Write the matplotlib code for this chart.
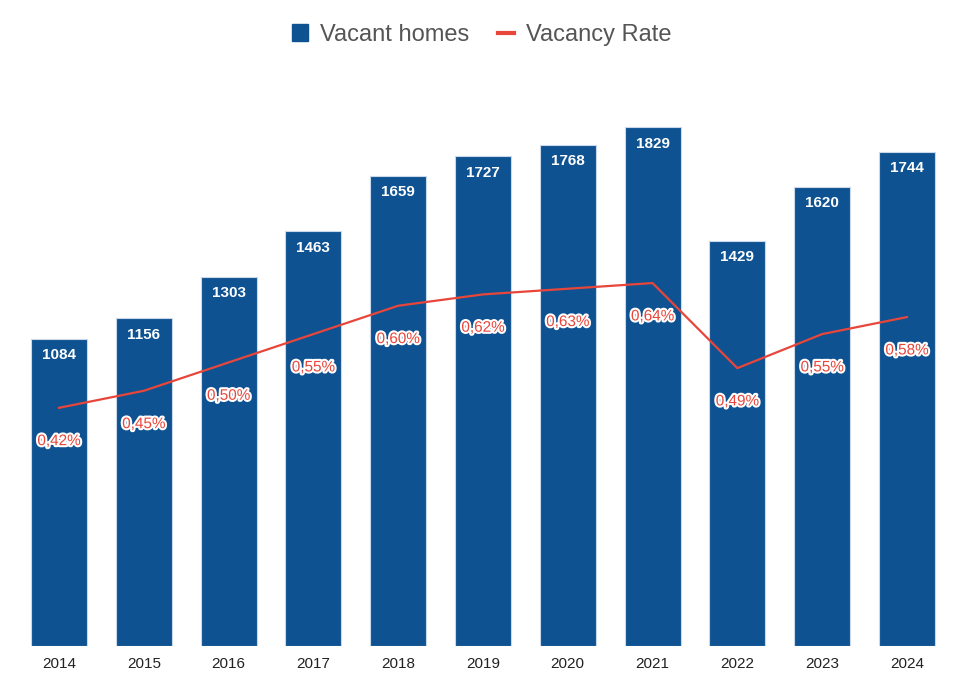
import matplotlib.pyplot as plt
import matplotlib.patheffects as pe
from matplotlib.lines import Line2D
from matplotlib.patches import Patch

plt.rcParams["font.family"] = ["Liberation Sans", "DejaVu Sans"]

years = ["2014", "2015", "2016", "2017", "2018", "2019", "2020", "2021", "2022", "2023", "2024"]
vacant_homes = [1084, 1156, 1303, 1463, 1659, 1727, 1768, 1829, 1429, 1620, 1744]
vacancy_rate = [0.42, 0.45, 0.50, 0.55, 0.60, 0.62, 0.63, 0.64, 0.49, 0.55, 0.58]

BAR = "#0e5292"
LINE = "#e8463a"

fig = plt.figure(figsize=(9.63, 6.84), dpi=100)
ax = fig.add_axes([0.0172, 0.0556, 0.9686, 0.829])
x = range(len(years))
ax.bar(x, vacant_homes, width=0.66, color=BAR, edgecolor="#c9d9ea", linewidth=0.8)
ax.set_xlim(-0.5, len(years) - 0.5)
ax.set_ylim(0, 2000)
ax.set_xticks(list(x))
ax.set_xticklabels(years, fontsize=11, color="#222222")
ax.tick_params(axis="x", length=0, pad=8)
ax.set_yticks([])
for s in ax.spines.values():
    s.set_visible(False)

for i, v in enumerate(vacant_homes):
    ax.annotate(f"{v}", (i, v), xytext=(0, -12), textcoords="offset points",
                ha="center", va="center", fontsize=11, fontweight="bold", color="white")

ax2 = ax.twinx()
ax2.plot(list(x), vacancy_rate, color=LINE, linewidth=1.6)
ax2.set_ylim(0, 1.0)
ax2.set_yticks([])
for s in ax2.spines.values():
    s.set_visible(False)

for i, r in enumerate(vacancy_rate):
    t = ax2.annotate(f"{r:.2f}%".replace(".", ","), (i, r), xytext=(0, -24),
                     textcoords="offset points", ha="center", va="center",
                     fontsize=11, color=LINE)
    t.set_path_effects([pe.withStroke(linewidth=3, foreground="white")])

handles = [Patch(facecolor=BAR, edgecolor=BAR),
           Line2D([0], [0], color=LINE, linewidth=3)]
fig.legend(handles, ["Vacant homes", "Vacancy Rate"], loc="center",
           bbox_to_anchor=(0.5, 0.949), ncol=2, frameon=False, fontsize=17,
           labelcolor="#555555", handlelength=0.7, handleheight=0.7,
           handletextpad=0.5, columnspacing=1.2)

fig.savefig("out.png", dpi=100)
